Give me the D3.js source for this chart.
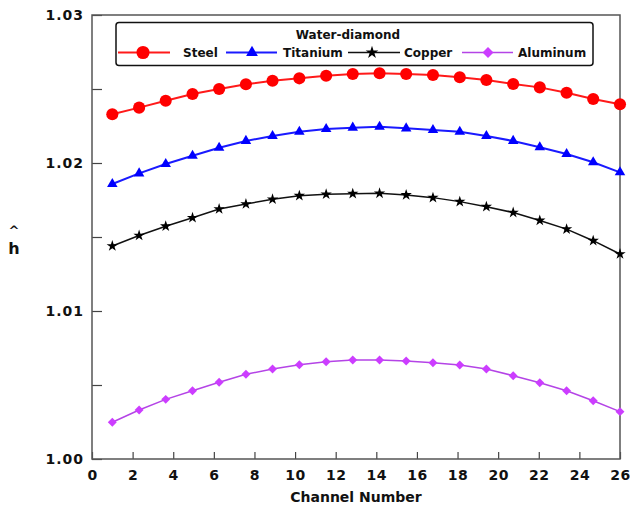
<!DOCTYPE html>
<html>
<head>
<meta charset="utf-8">
<script src="https://cdn.jsdelivr.net/npm/d3@7/dist/d3.min.js"></script>
<style>
  body { margin: 0; background: #fff; }
  text { font-family: "DejaVu Sans", sans-serif; font-weight: bold; }
</style>
</head>
<body>
<svg id="chart" width="630" height="512"></svg>
<script>
// channel positions (20 channels spread over 1..26)
const channel= [1, 2.32, 3.63, 4.95, 6.26, 7.58, 8.89, 10.21, 11.53, 12.84,
  14.16, 15.47, 16.79, 18.11, 19.42, 20.74, 22.05, 23.37, 24.68, 26];

const steel= [1.02329, 1.02374, 1.02421, 1.02466, 1.02500, 1.02532, 1.02556, 1.02572, 1.02590, 1.02601,
  1.02606, 1.02601, 1.02595, 1.02579, 1.02561, 1.02534, 1.02511, 1.02475, 1.02432, 1.02397];
const titanium= [1.01858, 1.01930, 1.01993, 1.02049, 1.02103, 1.02149, 1.02182, 1.02211, 1.02230, 1.02239,
  1.02245, 1.02234, 1.02223, 1.02211, 1.02182, 1.02149, 1.02106, 1.02061, 1.02005, 1.01937];
const copper= [1.01439, 1.01510, 1.01573, 1.01630, 1.01689, 1.01723, 1.01755, 1.01779, 1.01789, 1.01793,
  1.01795, 1.01784, 1.01766, 1.01739, 1.01705, 1.01665, 1.01612, 1.01553, 1.01475, 1.01385];
const aluminum= [1.00248, 1.00331, 1.00403, 1.00461, 1.00518, 1.00572, 1.00608, 1.00637, 1.00657, 1.00669,
  1.00669, 1.00662, 1.00651, 1.00635, 1.00608, 1.00563, 1.00515, 1.00461, 1.00394, 1.00320];

const xTicks= [0, 2, 4, 6, 8, 10, 12, 14, 16, 18, 20, 22, 24, 26];
const yTicks= [1.000, 1.005, 1.010, 1.015, 1.020, 1.025, 1.030];
const yLabels= [1.00, 1.01, 1.02, 1.03];

const series= [
  { name: 'Steel', values: steel, color: '#ff0000', line: '#ff1a1a', sym: d3.symbolCircle, size: 115, lsize: 135, width: 2, rot: 0 },
  { name: 'Titanium', values: titanium, color: '#0000ff', line: '#1a1aff', sym: d3.symbolTriangle, size: 48, lsize: 60, width: 2, rot: 0 },
  { name: 'Copper', values: copper, color: '#000000', line: '#111', sym: d3.symbolStar, size: 40, lsize: 50, width: 1.5, rot: 0 },
  { name: 'Aluminum', values: aluminum, color: '#cc3dff', line: '#b444e6', sym: d3.symbolSquare, size: 40, lsize: 60, width: 1.5, rot: 45 }
];

const svg= d3.select('#chart');
const L= 92, R= 620, T= 15, B= 459;

const x= d3.scaleLinear().domain([0, 26]).range([L, R]);
const y= d3.scaleLinear().domain([1.0, 1.03]).range([B, T]);

// axes, ticks inward
const xAxis= svg.append('g')
  .attr('transform', `translate(0,${B})`)
  .call(d3.axisBottom(x).tickValues(xTicks).tickSizeInner(-7).tickSizeOuter(0).tickPadding(11)
    .tickFormat(d3.format('d')));
const yAxis= svg.append('g')
  .attr('transform', `translate(${L},0)`)
  .call(d3.axisLeft(y).tickValues(yTicks).tickSizeInner(-10).tickSizeOuter(0).tickPadding(8)
    .tickFormat(d => yLabels.some(v => Math.abs(v-d) < 1e-9) ? d3.format('.2f')(d) : ''));

[xAxis, yAxis].forEach(g => {
  g.select('.domain').remove();
  g.selectAll('.tick line').attr('stroke', '#444').attr('stroke-width', 1.2);
  g.selectAll('.tick text')
    .attr('font-family', 'DejaVu Sans').attr('font-weight', 'bold')
    .attr('font-size', 14).attr('fill', '#111');
});
xAxis.selectAll('.tick text').attr('letter-spacing', 0.5);
yAxis.selectAll('.tick text').attr('letter-spacing', 1);

// plot frame
svg.append('rect')
  .attr('x', L).attr('y', T).attr('width', R-L).attr('height', B-T)
  .attr('fill', 'none').attr('stroke', '#555').attr('stroke-width', 1.5);

// series
const line= d3.line().x((d, i) => x(channel[i])).y(d => y(d));
series.forEach(s => {
  svg.append('path')
    .datum(s.values)
    .attr('d', line)
    .attr('fill', 'none')
    .attr('stroke', s.line)
    .attr('stroke-width', s.width);
  svg.append('g').selectAll('path')
    .data(s.values)
    .join('path')
    .attr('transform', (d, i) => `translate(${x(channel[i])},${y(d)}) rotate(${s.rot})`)
    .attr('d', d3.symbol().type(s.sym).size(s.size))
    .attr('fill', s.color);
});

// legend
const leg= svg.append('g');
leg.append('rect')
  .attr('x', 116).attr('y', 22.5).attr('width', 477).attr('height', 43).attr('rx', 3)
  .attr('fill', '#fff').attr('stroke', '#111').attr('stroke-width', 1.5);
leg.append('text')
  .attr('x', 348).attr('y', 38.5).attr('text-anchor', 'middle')
  .attr('font-size', 12).attr('fill', '#111').text('Water-diamond');
const items= [
  { x1: 118, x2: 170, mx: 143, tx: 183 },
  { x1: 226, x2: 277, mx: 252, tx: 283 },
  { x1: 348, x2: 400, mx: 372, tx: 404 },
  { x1: 462, x2: 513, mx: 488, tx: 518 }
];
series.forEach((s, i) => {
  const it= items[i];
  leg.append('line')
    .attr('x1', it.x1).attr('x2', it.x2).attr('y1', 52.5).attr('y2', 52.5)
    .attr('stroke', s.line).attr('stroke-width', s.width);
  leg.append('path')
    .attr('transform', `translate(${it.mx},52.5) rotate(${s.rot})`)
    .attr('d', d3.symbol().type(s.sym).size(s.lsize))
    .attr('fill', s.color);
  leg.append('text')
    .attr('x', it.tx).attr('y', 57)
    .attr('font-size', 12).attr('fill', '#111').text(s.name);
});

// axis titles
svg.append('text')
  .attr('x', 356).attr('y', 502).attr('text-anchor', 'middle')
  .attr('font-size', 14).attr('fill', '#111').text('Channel Number');
svg.append('text')
  .attr('x', 14).attr('y', 235).attr('text-anchor', 'middle')
  .attr('font-size', 13).attr('fill', '#111').text('^');
svg.append('text')
  .attr('x', 14).attr('y', 254).attr('text-anchor', 'middle')
  .attr('font-size', 16).attr('fill', '#111').text('h');
</script>
</body>
</html>
